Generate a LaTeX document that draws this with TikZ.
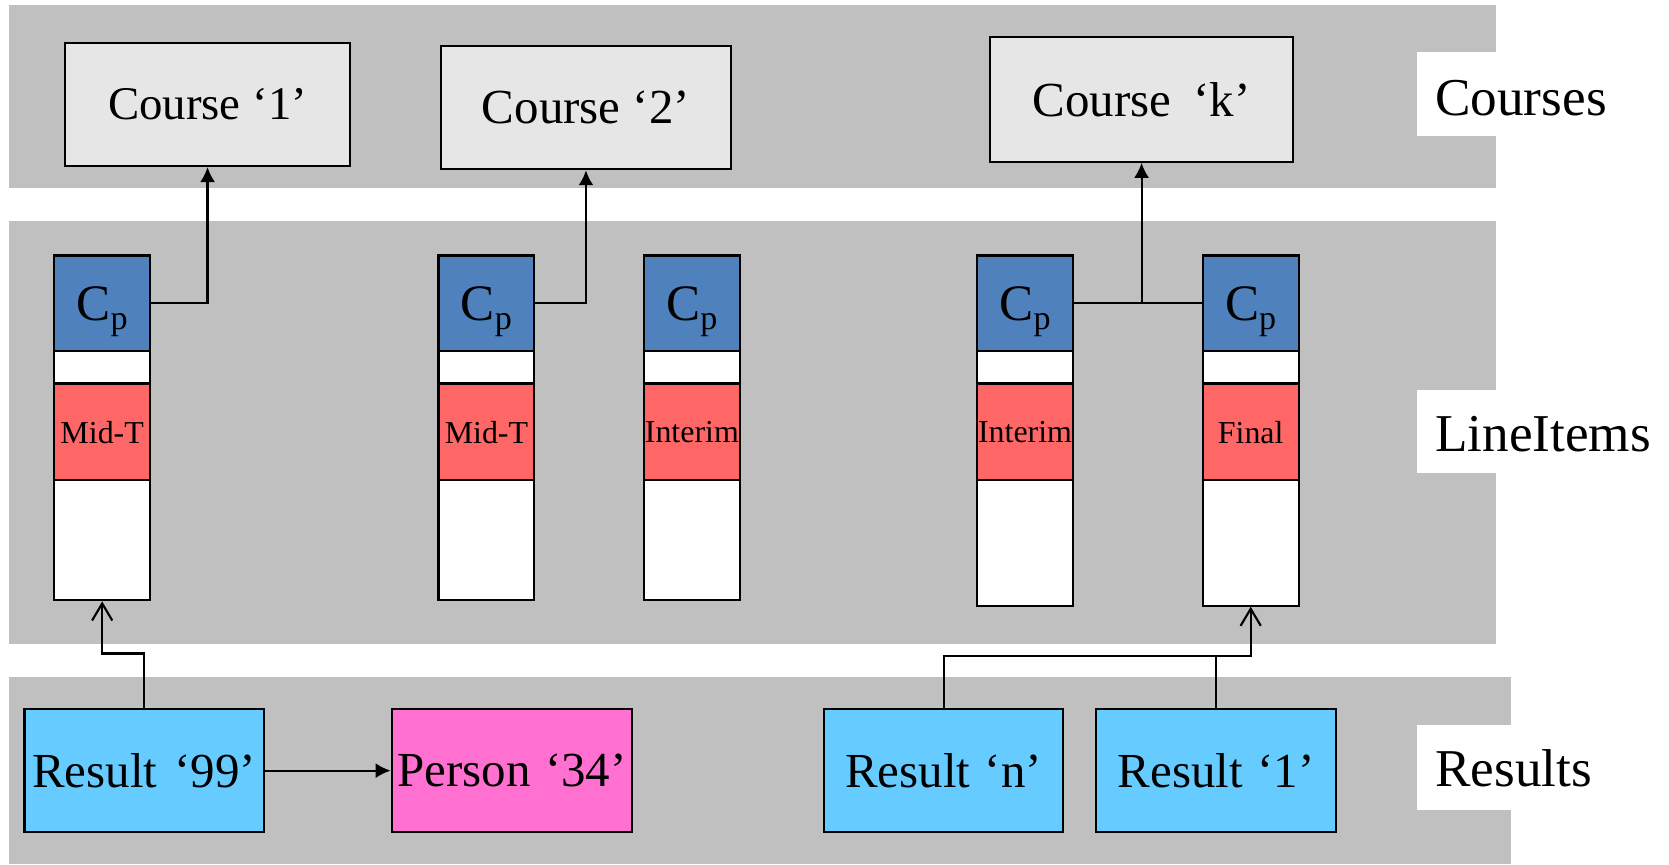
\documentclass[tikz,border=0pt]{standalone}
\usepackage{fontspec}
\setmainfont{Liberation Serif}
\usetikzlibrary{arrows.meta}
\definecolor{bandgray}{HTML}{C0C0C0}
\definecolor{coursefill}{HTML}{E6E6E6}
\definecolor{cpblue}{HTML}{4F81BD}
\definecolor{itemred}{HTML}{FF6666}
\definecolor{resultcyan}{HTML}{66CCFF}
\definecolor{personpink}{HTML}{FF70D0}
\tikzset{
  band/.style={fill=bandgray, draw=none},
  labelbg/.style={fill=white, draw=none},
  bigbox/.style={draw=black, line width=1pt, inner sep=0pt, font=\fontsize{23}{23}\selectfont},
  coursebox/.style={bigbox, fill=coursefill},
  resultbox/.style={bigbox, fill=resultcyan, minimum width=112.5pt, minimum height=58pt},
  personbox/.style={bigbox, fill=personpink, minimum width=113pt, minimum height=58pt},
  cpbox/.style={draw=black, line width=1pt, fill=cpblue, inner sep=0pt, minimum width=45pt, minimum height=45pt, font=\fontsize{24}{24}\selectfont},
  gapbox/.style={draw=black, line width=1pt, fill=white, inner sep=0pt, minimum width=45pt, minimum height=15pt},
  redbox/.style={draw=black, line width=1pt, fill=itemred, inner sep=0pt, minimum width=45pt, minimum height=45pt, font=\fontsize{15}{15}\selectfont},
  lowbox/.style={draw=black, line width=1pt, fill=white, inner sep=0pt, minimum width=45pt},
  bandlabel/.style={anchor=west, inner sep=0pt, font=\fontsize{25}{25}\selectfont},
  conn/.style={draw=black, line width=1pt},
  solidarr/.style={conn, -{Latex[length=7pt,width=7pt]}},
  openarr/.style={conn, -{Straight Barb[length=8pt,width=9.5pt]}},
}
\newcommand{\cpsym}{\smash{\raisebox{-8pt}{C\raisebox{-4.5pt}{\fontsize{16}{16}\selectfont p}}}}
\begin{document}
\begin{tikzpicture}[x=0.5pt,y=-0.5pt]
\useasboundingbox (0,0) rectangle (1568,812);
% bands
\fill[band] (8,5) rectangle (1405,177);
\fill[band] (8,208) rectangle (1405,605);
\fill[band] (8,636) rectangle (1420,812);
% label backgrounds
\fill[labelbg] (1331,49) rectangle (1430,128);
\fill[labelbg] (1331,366) rectangle (1430,444);
\fill[labelbg] (1331,681) rectangle (1430,761);
\node[bandlabel] (lc) at (1348,92) {Courses};
\node[bandlabel] (ll) at (1348,408) {LineItems};
\node[bandlabel] (lr) at (1348,722) {Results};
% courses
\node[coursebox, minimum width=134pt, minimum height=58pt, font=\fontsize{22}{22}\selectfont] (c1) at (195,98) {Course ‘1’};
\node[coursebox, minimum width=136.5pt, minimum height=58pt] (c2) at (550.5,101) {Course ‘2’};
\node[coursebox, minimum width=142.5pt, minimum height=58.5pt] (ck) at (1072.5,93.5) {Course\hspace{0.45em}‘k’};
% line item columns
\foreach \n/\x/\lab/\h in {1/96/Mid-T/56.5, 2/457/Mid-T/56.5, 3/650/Interim/56.5, 4/963/Interim/59, 5/1175/Final/59}{
  \node[cpbox] (cp\n) at (\x,285) {\cpsym};
  \node[gapbox] (g\n) at (\x,345) {};
  \node[redbox] (rd\n) at (\x,406) {\lab};
  \node[lowbox, minimum height=\h pt, anchor=north] (li\n) at (\x,450) {};
}
% results
\node[resultbox] (r99) at (135.5,724) {Result\hspace{0.35em}‘99’};
\node[personbox] (p34) at (481,724) {Person\hspace{0.3em}‘34’};
\node[resultbox] (rn) at (886.5,724) {Result\hspace{0.3em}‘n’};
\node[resultbox] (r1) at (1142.5,724) {Result\hspace{0.3em}‘1’};
% connectors
\draw[solidarr] (cp1.east) -| (c1.south);
\draw[solidarr] (cp2.east) -| (c2.south);
\draw[conn] (cp4.east) -- (cp5.west);
\draw[solidarr] (cp4.east -| ck.south) -- (ck.south);
\draw[openarr] (r99.north) -- ++(0,-51) -| (li1.south);
\draw[openarr] (rn.north) -- ++(0,-49) -| (li5.south);
\draw[conn] (r1.north) -- ++(0,-49);
\draw[solidarr] (r99.east) -- (p34.west);
\end{tikzpicture}
\end{document}
